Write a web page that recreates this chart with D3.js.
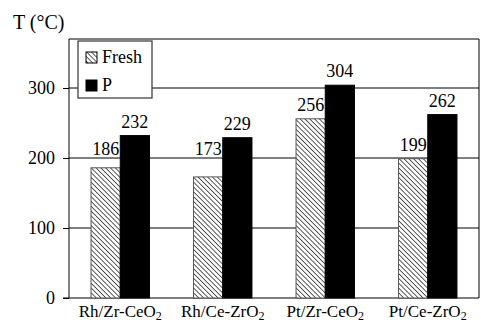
<!DOCTYPE html>
<html>
<head>
<meta charset="utf-8">
<script src="https://cdn.jsdelivr.net/npm/d3@7"></script>
<style>
  body { margin: 0; background: #fff; }
</style>
</head>
<body>
<div id="chart"></div>
<script>

var categories = ["Rh/Zr-CeO", "Rh/Ce-ZrO", "Pt/Zr-CeO", "Pt/Ce-ZrO"];
var seriesNames = ["Fresh", "P"];
var freshValues = [186, 173, 256, 199];
var pValues     = [232, 229, 304, 262];
var yTicks      = [0, 100, 200, 300];

var FONT = "'Liberation Serif'";
var size = {'w': 481, 'h': 325};
var plot = {'left': 69, 'top': 39, 'right': 479, 'bottom': 298};

var svg = d3.select("#chart")
          .append("svg")
          .attr("width", size.w)
          .attr("height", size.h);

// hatch pattern for the fresh bars (lines going down to the right)
var pat = svg.append("defs").append("pattern")
             .attr("id", "hatch")
             .attr("patternUnits", "userSpaceOnUse")
             .attr("width", 3.4).attr("height", 3.4)
             .attr("patternTransform", "rotate(-45)");
pat.append("rect").attr("width", 3.4).attr("height", 3.4).attr("fill", "#fff");
pat.append("line").attr("x1", 0).attr("y1", 0).attr("x2", 0).attr("y2", 3.4)
   .attr("stroke", "#333").attr("stroke-width", 1.6);

var XScale = d3.scaleBand().domain(categories).range([plot.left, plot.right]).paddingInner(0.43).paddingOuter(0.215);
var XSub   = d3.scaleBand().domain(seriesNames).range([0, XScale.bandwidth()]);
var YScale = d3.scaleLinear().domain([0, 370]).range([plot.bottom, plot.top]);

var fills = {"Fresh": "url(#hatch)", "P": "#000"};
var gridVals = yTicks.filter(function(d) { return d > 0; });

// grid lines
svg.selectAll(".grid")
   .data(gridVals)
   .enter().append("line")
   .attr("class", "grid")
   .attr("x1", plot.left).attr("x2", plot.right)
   .attr("y1", function(d) { return YScale(d); })
   .attr("y2", function(d) { return YScale(d); })
   .attr("stroke", "#000").attr("stroke-width", 1);

// y axis ticks + labels
var YAxis = d3.axisLeft(YScale).tickValues(yTicks).tickSize(6).tickPadding(8);
var yg = svg.append("g").attr("transform", "translate(" + plot.left + ",0)").call(YAxis);
yg.select(".domain").remove();
yg.selectAll("line").attr("stroke", "#000");
yg.selectAll("text").attr("fill", "#000").style("font-size", "18px").style("font-family", FONT);

// frame
svg.append("path")
   .attr("d", "M" + plot.left + "," + plot.bottom + "V" + plot.top + "H" + plot.right + "V" + plot.bottom)
   .attr("fill", "none").attr("stroke", "#000").attr("stroke-width", 1);
svg.append("line")
   .attr("x1", plot.left - 6).attr("x2", plot.right)
   .attr("y1", plot.bottom).attr("y2", plot.bottom)
   .attr("stroke", "#000").attr("stroke-width", 1.2);

var rows = categories.map(function(c, i) {
  return {cat: c, vals: [{s: "Fresh", v: freshValues[i]}, {s: "P", v: pValues[i]}]};
});

var groups = svg.selectAll(".grp")
   .data(rows)
   .enter().append("g")
   .attr("class", "grp")
   .attr("transform", function(d) { return "translate(" + XScale(d.cat) + ",0)"; });

groups.selectAll("rect")
   .data(function(d) { return d.vals; })
   .enter().append("rect")
   .attr("x", function(d) { return XSub(d.s); })
   .attr("width", XSub.bandwidth())
   .attr("y", function(d) { return YScale(d.v); })
   .attr("height", function(d) { return YScale(0) - YScale(d.v); })
   .attr("fill", function(d) { return fills[d.s]; })
   .attr("stroke", function(d) { return d.s == "Fresh" ? "#555" : "#000"; })
   .attr("stroke-width", 1);

// value label baseline: just above the bar, but lifted clear of any grid line it would cross
function labelY(v) {
  var base = YScale(v) - 8;
  gridVals.forEach(function(g) {
    var gy = YScale(g);
    if (gy > base - 14 && gy < base + 3) { base = gy - 3; }
  });
  return base;
}

groups.selectAll(".val")
   .data(function(d) { return d.vals; })
   .enter().append("text")
   .attr("class", "val")
   .attr("x", function(d) { return XSub(d.s) + XSub.bandwidth() / 2; })
   .attr("y", function(d) { return labelY(d.v); })
   .attr("text-anchor", "middle")
   .style("font-family", FONT)
   .style("font-size", "18px")
   .text(function(d) { return d.v; });

// category labels with subscript 2
svg.selectAll(".cat")
   .data(categories)
   .enter().append("text")
   .attr("class", "cat")
   .attr("x", function(d) { return XScale(d) + XScale.bandwidth() / 2; })
   .attr("y", 317)
   .attr("text-anchor", "middle")
   .style("font-family", FONT)
   .style("font-size", "17px")
   .each(function(d) {
     var t = d3.select(this);
     t.append("tspan").text(d);
     t.append("tspan").attr("dy", 3).style("font-size", "12px").text("2");
   });

// axis title
svg.append("text").attr("x", 13).attr("y", 29)
   .style("font-family", FONT).style("font-size", "20px").text("T (\u00b0C)");

// legend
var leg = svg.append("g").attr("transform", "translate(78,41)");
leg.append("rect").attr("width", 74).attr("height", 57)
   .attr("fill", "#fff").attr("stroke", "#333").attr("stroke-width", 1.2);
var items = leg.selectAll(".li").data(seriesNames).enter().append("g")
   .attr("transform", function(d, i) { return "translate(8," + (11 + i * 28) + ")"; });
items.append("rect").attr("width", 11).attr("height", 11)
   .attr("fill", function(d) { return fills[d]; })
   .attr("stroke", "#000").attr("stroke-width", 1);
items.append("text").attr("x", 16).attr("y", 11)
   .style("font-family", FONT).style("font-size", "18px").text(function(d) { return d; });

</script>
</body>
</html>
